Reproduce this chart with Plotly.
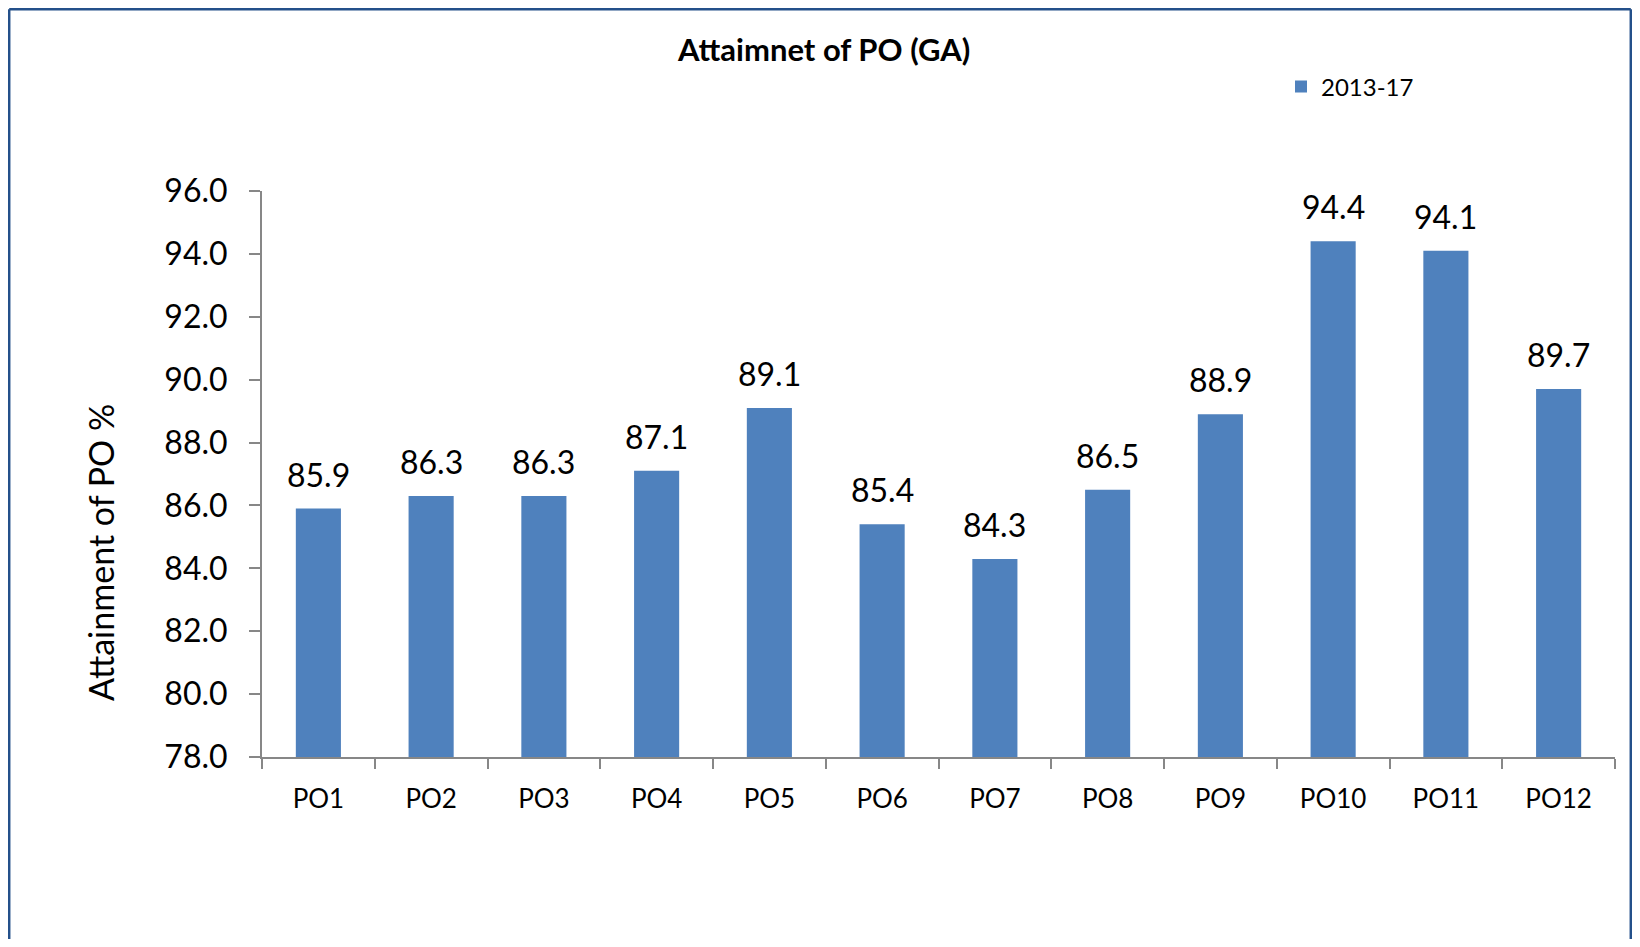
import plotly.graph_objects as go

categories = ["PO1", "PO2", "PO3", "PO4", "PO5", "PO6", "PO7", "PO8", "PO9", "PO10", "PO11", "PO12"]
values = [85.9, 86.3, 86.3, 87.1, 89.1, 85.4, 84.3, 86.5, 88.9, 94.4, 94.1, 89.7]
series_name = "2013-17"
y_ticks = [78, 80, 82, 84, 86, 88, 90, 92, 94, 96]

# figure is placed at (8, 8) in the page by the default body margin
W, H = 1624, 931
L, R, T, B = 254, 1607, 183, 749
pw, ph = R - L, B - T

def px(x):
    return (x - L) / pw

def py(y):
    return (B - y) / ph

FONT = "Lato, Carlito, Calibri, sans-serif"
BAR = "#4F81BD"
AX = "#878787"
FRAME = "#24508A"

fig = go.Figure()
fig.add_trace(go.Bar(
    x=categories, y=values, name=series_name,
    marker=dict(color=BAR, line=dict(width=0)),
    showlegend=True,
))

annotations = []
for c, v in zip(categories, values):
    annotations.append(dict(
        x=c, y=v, xref="x", yref="y", text=f"{v:.1f}", showarrow=False,
        yanchor="bottom", yshift=13, font=dict(family=FONT, size=32, color="#000000"),
    ))
# title
annotations.append(dict(
    x=px(815), y=py(41), xref="paper", yref="paper", text="<b>Attaimnet of PO (GA)</b>",
    showarrow=False, xanchor="center", yanchor="middle",
    font=dict(family=FONT, size=31, color="#000000"),
))
# y axis title
annotations.append(dict(
    x=px(92), y=py(545), xref="paper", yref="paper", text="Attainment of PO %",
    showarrow=False, xanchor="center", yanchor="middle", textangle=-90,
    font=dict(family=FONT, size=34, color="#000000"),
))

fx0, fx1, fy0, fy1 = px(1.2), px(1622.8), py(1.2), py(H + 20)
frame_line = dict(color=FRAME, width=2.5)
shapes = [
    dict(type="line", xref="paper", yref="paper", x0=fx0, x1=fx0, y0=fy0, y1=fy1, line=frame_line, layer="above"),
    dict(type="line", xref="paper", yref="paper", x0=fx0, x1=fx1, y0=fy0, y1=fy0, line=frame_line, layer="above"),
    dict(type="line", xref="paper", yref="paper", x0=fx1, x1=fx1, y0=fy0, y1=fy1, line=frame_line, layer="above"),
]

fig.update_layout(
    width=W, height=H,
    margin=dict(l=L, r=W - R, t=T, b=H - B, pad=0),
    paper_bgcolor="white", plot_bgcolor="white",
    bargap=0.6,
    font=dict(family=FONT, color="#000000"),
    annotations=annotations,
    showlegend=True,
    legend=dict(
        x=px(1273), y=py(79), xanchor="left", yanchor="middle",
        font=dict(family=FONT, size=24, color="#000000"),
        bgcolor="rgba(0,0,0,0)", itemwidth=30,
    ),
    shapes=shapes,
)

fig.update_xaxes(
    type="category", showgrid=False, showline=True, linecolor=AX, linewidth=2,
    ticks="outside", tickson="boundaries", ticklen=10, tickwidth=2, tickcolor=AX,
    tickfont=dict(family=FONT, size=26, color="#000000"), ticklabelstandoff=18,
)
fig.update_yaxes(
    range=[78, 96], tickvals=y_ticks, ticktext=[f"{t:.1f}" for t in y_ticks],
    showgrid=False, zeroline=False, showline=True, linecolor=AX, linewidth=2,
    ticks="outside", ticklen=11, tickwidth=2, tickcolor=AX,
    tickfont=dict(family=FONT, size=32, color="#000000"), ticklabelstandoff=15,
)

fig.write_html("out.html")
